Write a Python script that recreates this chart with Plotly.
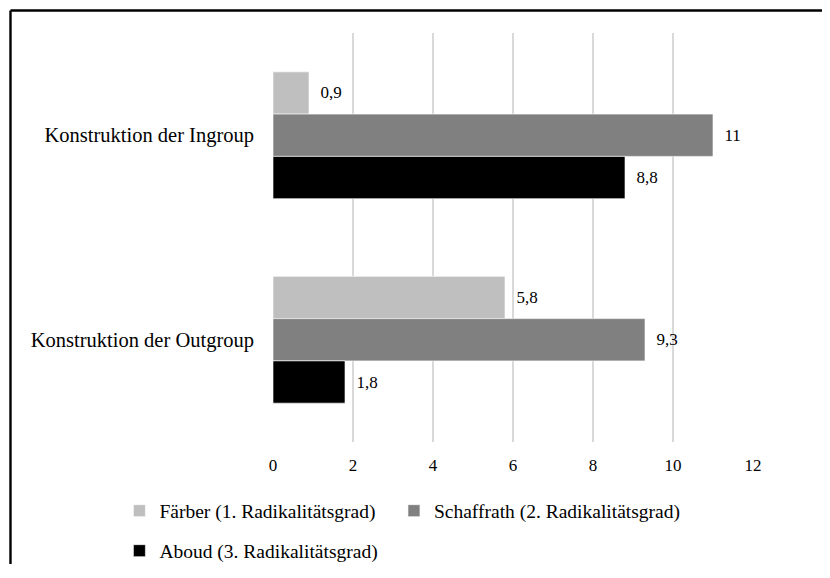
import plotly.graph_objects as go

categories = ["Konstruktion der Ingroup", "Konstruktion der Outgroup"]
series_names = ["Färber (1. Radikalitätsgrad)",
                "Schaffrath (2. Radikalitätsgrad)",
                "Aboud (3. Radikalitätsgrad)"]
faerber = [0.9, 5.8]
schaffrath = [11, 9.3]
aboud = [8.8, 1.8]
x_ticks = [0, 2, 4, 6, 8, 10, 12]

colors = ["#BFBFBF", "#808080", "#000000"]
serif = "Liberation Serif"


def de_label(v):
    # German decimal comma, padded a little away from the bar end
    return "\u00a0\u00a0" + f"{v:g}".replace(".", ",")


fig = go.Figure()
for name, vals, col, lg in zip(series_names, [faerber, schaffrath, aboud], colors,
                               ["legend", "legend2", "legend3"]):
    fig.add_trace(go.Bar(
        y=categories, x=vals, name=name, orientation="h",
        marker=dict(color=col, line=dict(color="#FFFFFF", width=0.6)),
        text=[de_label(v) for v in vals], textposition="outside",
        textfont=dict(family=serif, size=17, color="#000000"),
        cliponaxis=False, legend=lg,
    ))

legend_font = dict(family=serif, size=19.5, color="#000000")
# frame of the chart (only the left and top edges are visible in the picture)
frame = dict(color="#000000", width=2.4)
fig.update_layout(
    width=814, height=556,
    margin=dict(l=265, r=69, t=25, b=122, autoexpand=False),
    barmode="group", bargap=0.38, bargroupgap=0,
    plot_bgcolor="white", paper_bgcolor="white",
    font=dict(family=serif, color="#000000"),
    showlegend=True,
    legend=dict(orientation="h", x=-0.32, xanchor="left", y=-0.121, yanchor="top",
                font=legend_font, bgcolor="rgba(0,0,0,0)"),
    legend2=dict(orientation="h", x=0.252, xanchor="left", y=-0.121, yanchor="top",
                 font=legend_font, bgcolor="rgba(0,0,0,0)"),
    legend3=dict(orientation="h", x=-0.32, xanchor="left", y=-0.2188, yanchor="top",
                 font=legend_font, bgcolor="rgba(0,0,0,0)"),
    xaxis=dict(range=[0, 12], tickvals=x_ticks, showgrid=True, gridcolor="#D9D9D9",
               gridwidth=2, zeroline=False, showline=False,
               tickfont=dict(family=serif, size=17, color="#000000"),
               ticklabelstandoff=11),
    yaxis=dict(autorange="reversed", showgrid=False, showline=False, ticks="",
               tickfont=dict(family=serif, size=20.5, color="#000000"),
               ticklabelstandoff=18),
    shapes=[
        dict(type="line", xref="paper", yref="paper", x0=-0.5469, x1=-0.5469,
             y0=-0.3, y1=1.055, line=frame, layer="below"),
        dict(type="line", xref="paper", yref="paper", x0=-0.5469, x1=1.15,
             y0=1.055, y1=1.055, line=frame, layer="below"),
    ],
)

fig.write_html("out.html")
